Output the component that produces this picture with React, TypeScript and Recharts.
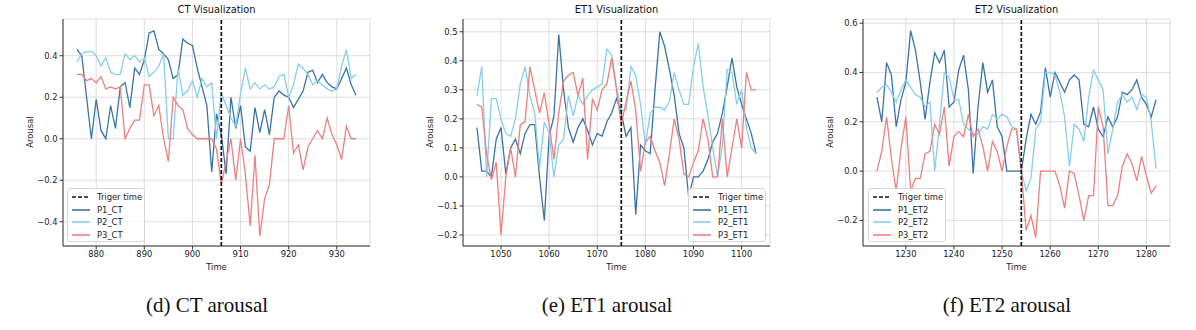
import { LineChart, Line, XAxis, YAxis, CartesianGrid, ReferenceLine, Label } from "recharts"

// time stamps start at these values, one sample per second
const ctStart = 876
const et1Start = 1045
const et2Start = 1224

const ctTrigger = 906
const et1Trigger = 1075
const et2Trigger = 1254

const p1CT = [0.43, 0.4, 0.2, 0.0, 0.19, 0.04, 0.0, 0.16, 0.05, 0.25, 0.27, 0.15, 0.34, 0.31, 0.38, 0.51, 0.52, 0.43, 0.41, 0.38, 0.29, 0.31, 0.48, 0.46, 0.45, 0.34, 0.25, 0.16, -0.16, 0.12, 0.02, -0.17, 0.2, 0.05, 0.16, -0.04, -0.06, 0.15, 0.03, 0.14, 0.02, 0.2, 0.23, 0.21, 0.2, 0.15, 0.19, 0.23, 0.32, 0.33, 0.27, 0.31, 0.27, 0.25, 0.24, 0.29, 0.34, 0.26, 0.21]
const p2CT = [0.37, 0.41, 0.42, 0.42, 0.4, 0.35, 0.39, 0.32, 0.31, 0.31, 0.41, 0.38, 0.4, 0.37, 0.39, 0.3, 0.32, 0.35, 0.41, 0.0, 0.0, 0.34, 0.21, 0.23, 0.28, 0.2, 0.29, 0.25, 0.27, 0.0, 0.22, 0.16, 0.1, 0.06, 0.22, 0.34, 0.24, 0.27, 0.24, 0.26, 0.24, 0.25, 0.3, 0.31, 0.2, 0.26, 0.36, 0.34, 0.31, 0.26, 0.28, 0.26, 0.24, 0.23, 0.24, 0.35, 0.43, 0.29, 0.31]
const p3CT = [0.31, 0.31, 0.28, 0.29, 0.27, 0.3, 0.24, 0.25, 0.24, 0.25, 0.0, 0.05, 0.09, 0.09, 0.26, 0.26, 0.11, 0.16, 0.0, -0.11, 0.2, 0.16, 0.14, 0.05, 0.02, 0.0, 0.0, 0.0, 0.0, -0.05, -0.22, -0.11, 0.0, -0.2, 0.0, -0.17, -0.42, -0.08, -0.47, -0.29, -0.22, 0.0, 0.0, 0.0, 0.16, -0.07, -0.03, -0.15, -0.04, 0.0, 0.04, 0.0, 0.1, 0.02, -0.03, -0.1, 0.06, 0.0, 0.0]

const p1ET1 = [0.17, 0.02, 0.02, 0.0, 0.13, 0.17, 0.01, 0.1, 0.13, 0.08, 0.15, 0.18, 0.18, 0.0, -0.15, 0.14, 0.21, 0.49, 0.3, 0.17, 0.12, 0.17, 0.2, 0.16, 0.11, 0.15, 0.14, 0.19, 0.22, 0.27, 0.22, 0.14, 0.17, -0.13, 0.11, 0.09, 0.08, 0.3, 0.5, 0.45, 0.37, 0.28, 0.15, 0.1, -0.07, 0.0, 0.0, 0.02, 0.06, 0.12, 0.15, 0.22, 0.31, 0.41, 0.31, 0.25, 0.2, 0.15, 0.08]
const p2ET1 = [0.28, 0.38, 0.0, 0.27, 0.27, 0.2, 0.15, 0.14, 0.2, 0.32, 0.38, 0.28, 0.22, 0.03, 0.19, 0.15, 0.0, 0.11, 0.13, 0.28, 0.21, 0.28, 0.25, 0.28, 0.3, 0.31, 0.32, 0.44, 0.42, 0.31, 0.23, 0.23, 0.38, 0.35, 0.25, 0.11, 0.22, 0.24, 0.24, 0.23, 0.26, 0.36, 0.3, 0.25, 0.25, 0.38, 0.46, 0.31, 0.21, 0.1, 0.0, 0.11, 0.37, 0.36, 0.25, 0.3, 0.17, 0.1, 0.08]
const p3ET1 = [0.25, 0.24, 0.08, -0.01, 0.05, -0.2, 0.0, 0.1, 0.0, 0.18, 0.19, 0.38, 0.3, 0.22, 0.29, 0.18, 0.06, 0.22, 0.33, 0.35, 0.36, 0.28, 0.34, 0.06, 0.27, 0.23, 0.3, 0.32, 0.41, 0.3, 0.18, 0.26, 0.33, 0.23, 0.02, 0.12, 0.14, 0.09, 0.05, -0.03, 0.08, 0.2, 0.13, 0.01, 0.0, 0.05, 0.09, 0.2, 0.13, 0.0, 0.0, 0.2, 0.0, 0.1, 0.2, 0.1, 0.36, 0.3, 0.3]

const p1ET2 = [0.3, 0.2, 0.44, 0.39, 0.18, 0.29, 0.36, 0.57, 0.49, 0.36, 0.21, 0.36, 0.48, 0.44, 0.49, 0.26, 0.28, 0.41, 0.47, 0.33, -0.01, 0.26, 0.44, 0.32, 0.37, 0.18, 0.14, 0.0, 0.0, 0.0, 0.0, 0.13, 0.23, 0.19, 0.24, 0.42, 0.3, 0.4, 0.36, 0.32, 0.37, 0.39, 0.37, 0.19, 0.18, 0.26, 0.17, 0.14, 0.22, 0.18, 0.22, 0.32, 0.31, 0.33, 0.37, 0.3, 0.27, 0.22, 0.29]
const p2ET2 = [0.32, 0.34, 0.35, 0.32, 0.28, 0.33, 0.37, 0.34, 0.31, 0.3, 0.26, 0.28, 0.0, 0.19, 0.4, 0.38, 0.29, 0.29, 0.19, 0.17, 0.15, 0.15, 0.18, 0.17, 0.23, 0.21, 0.23, 0.22, 0.18, 0.17, 0.0, -0.08, -0.03, 0.17, 0.2, 0.4, 0.4, 0.39, 0.32, 0.22, 0.02, 0.19, 0.17, 0.12, 0.3, 0.41, 0.37, 0.33, 0.07, 0.17, 0.28, 0.31, 0.28, 0.3, 0.25, 0.31, 0.3, 0.2, 0.01]
const p3ET2 = [0.0, 0.08, 0.22, 0.05, -0.08, 0.09, 0.22, -0.08, -0.03, -0.03, 0.07, 0.08, 0.19, 0.15, 0.26, 0.02, 0.14, 0.16, 0.14, 0.23, 0.14, 0.17, 0.1, 0.0, 0.12, 0.08, 0.0, 0.1, 0.17, 0.17, 0.0, -0.24, -0.18, -0.27, 0.0, 0.0, 0.0, 0.0, -0.06, -0.15, 0.0, -0.01, -0.1, -0.2, -0.1, -0.1, 0.26, 0.18, -0.14, -0.14, -0.1, 0.02, 0.07, 0.03, -0.04, 0.06, -0.02, -0.09, -0.06]

const COLORS = ["#3b73a8", "#87ceeb", "#ec8080"]
const FONT = "DejaVu Sans"

const fmt = (v: number) => (v < 0 ? "\u2212" + Math.abs(v).toFixed(1) : v.toFixed(1))

type PanelProps = {
  left: number
  title: string
  caption: string
  start: number
  trigger: number
  series: number[][]
  names: string[]
  xDomain: [number, number]
  xTicks: number[]
  yDomain: [number, number]
  yTicks: number[]
  legendLeft: number
}

function LegendBox({ names, left }: { names: string[]; left: number }) {
  const items = [{ name: "Triger time", color: "#111", dash: "4 2" }, ...names.map((n, i) => ({ name: n, color: COLORS[i], dash: undefined as string | undefined }))]
  return (
    <div
      style={{
        position: "absolute",
        left,
        top: 188,
        width: 78,
        height: 54,
        border: "1px solid #d6d6d6",
        borderRadius: 3,
        background: "rgba(255,255,255,0.85)",
        boxSizing: "border-box",
        fontFamily: FONT,
        fontSize: 8.4,
        color: "#222",
      }}
    >
      {items.map((it, i) => (
        <div key={it.name} style={{ position: "absolute", left: 3, top: 2 + i * 12.5, height: 12, display: "flex", alignItems: "center" }}>
          <svg width={20} height={6} style={{ marginRight: 6 }}>
            <line x1={1} y1={3} x2={19} y2={3} stroke={it.color} strokeWidth={1.6} strokeDasharray={it.dash} />
          </svg>
          <span>{it.name}</span>
        </div>
      ))}
    </div>
  )
}

function Panel(p: PanelProps) {
  const data = p.series[0].map((v, i) => ({ t: p.start + i, a: v, b: p.series[1][i], c: p.series[2][i] }))
  const tickStyle = { fontFamily: FONT, fontSize: 8.4, fill: "#1a1a1a" }
  return (
    <div style={{ position: "absolute", left: p.left, top: 0, width: 400, height: 330 }}>
      <div style={{ position: "absolute", left: 63, width: 307, top: 4, textAlign: "center", fontFamily: FONT, fontSize: 9.8, color: "#111" }}>{p.title}</div>
      <LineChart width={400} height={330} data={data} margin={{ top: 19, right: 30, bottom: 0, left: 0 }}>
        <CartesianGrid stroke="#d6d6d6" strokeWidth={0.8} />
        <XAxis
          type="number"
          dataKey="t"
          domain={p.xDomain}
          ticks={p.xTicks}
          height={84}
          tick={tickStyle}
          tickSize={3.5}
          tickLine={{ stroke: "#333" }}
          axisLine={{ stroke: "#333", strokeWidth: 1 }}
          allowDataOverflow
        >
          <Label value="Time" position="insideTop" offset={18} style={{ fontFamily: FONT, fontSize: 8.4, fill: "#1a1a1a" }} />
        </XAxis>
        <YAxis
          type="number"
          domain={p.yDomain}
          ticks={p.yTicks}
          width={63}
          tick={tickStyle}
          tickFormatter={fmt}
          tickSize={3.5}
          tickLine={{ stroke: "#333" }}
          axisLine={{ stroke: "#333", strokeWidth: 1 }}
          allowDataOverflow
        >
          <Label
            content={() => (
              <text x={30} y={132} transform="rotate(-90 30 132)" textAnchor="middle" dominantBaseline="middle" style={{ fontFamily: FONT, fontSize: 8.4, fill: "#1a1a1a" }}>
                Arousal
              </text>
            )}
          />
        </YAxis>
        <XAxis xAxisId="top" orientation="top" type="number" domain={p.xDomain} height={0} tick={false} tickLine={false} axisLine={{ stroke: "#888" }} />
        <YAxis yAxisId="right" orientation="right" type="number" domain={p.yDomain} width={0} tick={false} tickLine={false} axisLine={{ stroke: "#888" }} />
        <Line dataKey="a" stroke={COLORS[0]} strokeWidth={1.3} dot={false} isAnimationActive={false} />
        <Line dataKey="b" stroke={COLORS[1]} strokeWidth={1.3} dot={false} isAnimationActive={false} />
        <Line dataKey="c" stroke={COLORS[2]} strokeWidth={1.3} dot={false} isAnimationActive={false} />
        <ReferenceLine x={p.trigger} stroke="#111" strokeWidth={1.7} strokeDasharray="4 2" />
      </LineChart>
      <LegendBox names={p.names} left={p.legendLeft} />
      <div style={{ position: "absolute", left: 0, width: 414, top: 293, textAlign: "center", fontFamily: "Liberation Serif", fontSize: 21, color: "#111" }}>{p.caption}</div>
    </div>
  )
}

export default function App() {
  return (
    <div style={{ position: "absolute", left: 0, top: 0, width: 1196, height: 330, background: "#fff", overflow: "hidden" }}>
      <Panel
        left={0}
        title="CT Visualization"
        caption="(d) CT arousal"
        start={ctStart}
        trigger={ctTrigger}
        series={[p1CT, p2CT, p3CT]}
        names={["P1_CT", "P2_CT", "P3_CT"]}
        xDomain={[873.1, 936.9]}
        xTicks={[880, 890, 900, 910, 920, 930]}
        yDomain={[-0.517, 0.577]}
        yTicks={[-0.4, -0.2, 0, 0.2, 0.4]}
        legendLeft={67}
      />
      <Panel
        left={400}
        title="ET1 Visualization"
        caption="(e) ET1 arousal"
        start={et1Start}
        trigger={et1Trigger}
        series={[p1ET1, p2ET1, p3ET1]}
        names={["P1_ET1", "P2_ET1", "P3_ET1"]}
        xDomain={[1042.1, 1105.9]}
        xTicks={[1050, 1060, 1070, 1080, 1090, 1100]}
        yDomain={[-0.238, 0.544]}
        yTicks={[-0.2, -0.1, 0, 0.1, 0.2, 0.3, 0.4, 0.5]}
        legendLeft={288}
      />
      <Panel
        left={800}
        title="ET2 Visualization"
        caption="(f) ET2 arousal"
        start={et2Start}
        trigger={et2Trigger}
        series={[p1ET2, p2ET2, p3ET2]}
        names={["P1_ET2", "P2_ET2", "P3_ET2"]}
        xDomain={[1221.1, 1284.9]}
        xTicks={[1230, 1240, 1250, 1260, 1270, 1280]}
        yDomain={[-0.304, 0.617]}
        yTicks={[-0.2, 0, 0.2, 0.4, 0.6]}
        legendLeft={68}
      />
    </div>
  )
}
